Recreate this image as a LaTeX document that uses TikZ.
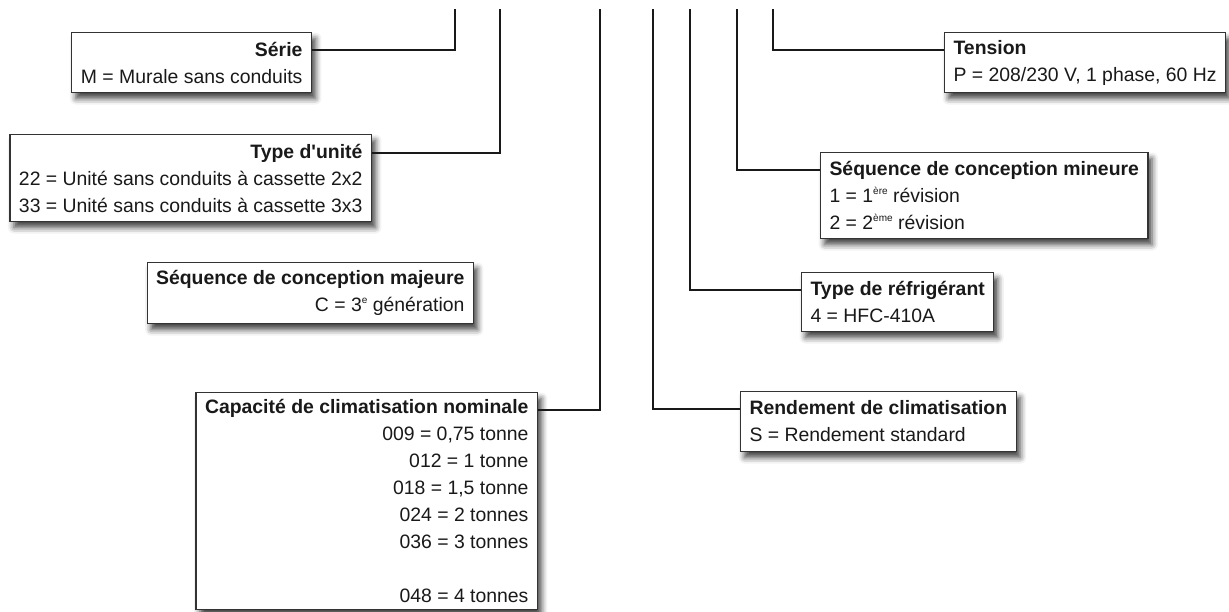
\documentclass[tikz,border=0pt]{standalone}
\usepackage{fontspec}
\setmainfont{Liberation Sans}
\usetikzlibrary{shadows.blur}
\tikzstyle{case}=[draw=black!80,line width=1.1pt,fill=white,inner xsep=9pt,inner ysep=2pt,text=black!90,blur shadow={shadow xshift=4pt,shadow yshift=-6pt,shadow blur radius=6pt,shadow opacity=75},font=\fontsize{19.4}{27}\selectfont]
\tikzstyle{gauche}=[case,anchor=north east,align=right]
\tikzstyle{droite}=[case,anchor=north west,align=left]
\tikzstyle{lien}=[line width=2pt,draw=black!90]
\def\titre#1{\textbf{#1}\\}
\def\expo#1{\raisebox{0.75ex}{\fontsize{10}{10}\selectfont #1}}

\begin{document}
\begin{tikzpicture}[x=1pt,y=-1pt]
    \useasboundingbox (0,0) rectangle (1229,611);
    % boites a gauche
    \node[gauche,minimum height=60pt] (serie) at (312,32) {\titre{Série}M = Murale sans conduits};
    \node[gauche,minimum height=87pt] (type) at (372,134) {\titre{Type d\textquotesingle unité}22 = Unité sans conduits à cassette 2x2\\33 = Unité sans conduits à cassette 3x3};
    \node[gauche,minimum height=61pt] (majeure) at (474,262) {\titre{Séquence de conception majeure}C = 3\expo{e} génération};
    \node[gauche,minimum height=217pt] (capacite) at (538,392) {\titre{Capacité de climatisation nominale}009 = 0,75 tonne\\012 = 1 tonne\\018 = 1,5 tonne\\024 = 2 tonnes\\036 = 3 tonnes\\[27pt]048 = 4 tonnes};
    % boites a droite
    \node[droite,minimum height=60pt] (tension) at (944,32) {\titre{Tension}P = 208/230 V, 1 phase, 60 Hz};
    \node[droite,minimum height=86pt] (mineure) at (820,152) {\titre{Séquence de conception mineure}1 = 1\expo{ère} révision\\2 = 2\expo{ème} révision};
    \node[droite,minimum height=59pt] (refrigerant) at (801,272) {\titre{Type de réfrigérant}4 = HFC-410A};
    \node[droite,minimum height=60pt] (rendement) at (740,391) {\titre{Rendement de climatisation}S = Rendement standard};
    % haut des lignes
    \coordinate (hserie) at (455,9);
    \coordinate (htype) at (500,9);
    \coordinate (hcapacite) at (600,9);
    \coordinate (hrendement) at (653,9);
    \coordinate (hrefrigerant) at (690,9);
    \coordinate (hmineure) at (737,9);
    \coordinate (htension) at (773,9);
    \draw[lien] ([yshift=-17.5pt]serie.north east) -| (hserie);
    \draw[lien] ([yshift=-18.5pt]type.north east) -| (htype);
    \draw[lien] ([yshift=-17.5pt]capacite.north east) -| (hcapacite);
    \draw[lien] ([yshift=-17.5pt]rendement.north west) -| (hrendement);
    \draw[lien] ([yshift=-17.5pt]refrigerant.north west) -| (hrefrigerant);
    \draw[lien] ([yshift=-18pt]mineure.north west) -| (hmineure);
    \draw[lien] ([yshift=-17.5pt]tension.north west) -| (htension);
\end{tikzpicture}
\end{document}
